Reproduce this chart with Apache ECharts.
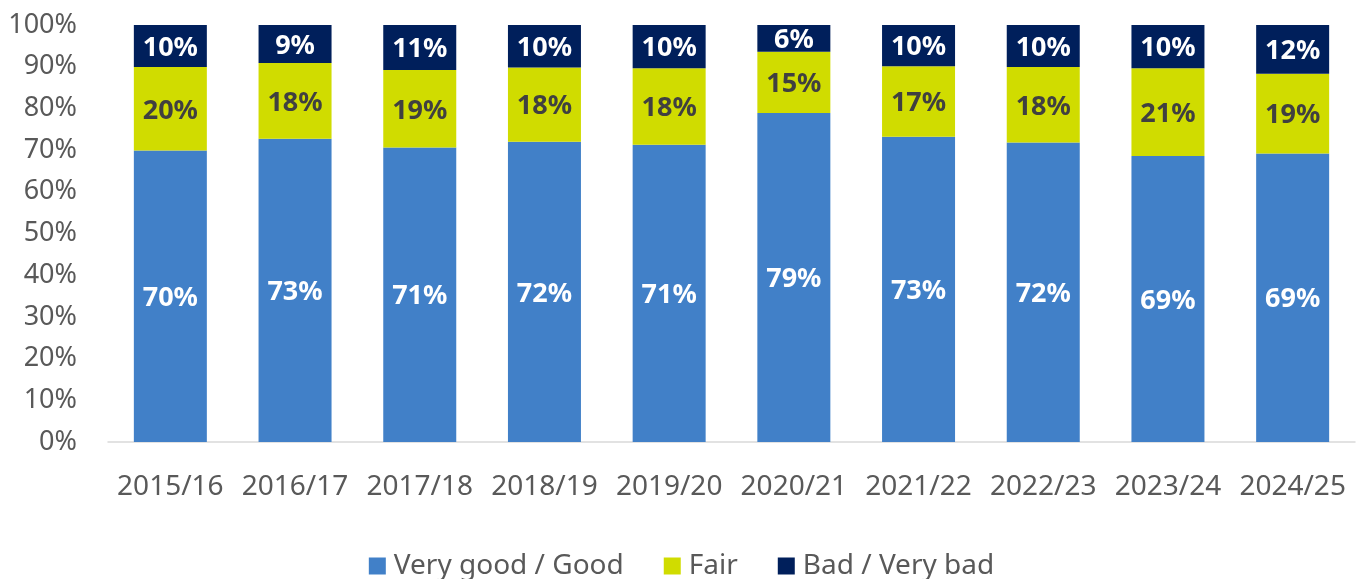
<!DOCTYPE html>
<html lang="en">
<head>
    <meta charset="UTF-8">
    <title>Rating by year</title>
    <script src="https://cdn.jsdelivr.net/npm/echarts/dist/echarts.min.js"></script>
    <style>
        html, body { margin: 0; padding: 0; background: #fff; }
        #chart { width: 1363px; height: 579px; }
    </style>
</head>
<body>
<div id="chart"></div>
<script>
    // data (shares in %)
    let years = ['2015/16', '2016/17', '2017/18', '2018/19', '2019/20', '2020/21', '2021/22', '2022/23', '2023/24', '2024/25'];
    let good = [69.9, 72.7, 70.6, 72.0, 71.3, 78.9, 73.2, 71.8, 68.6, 69.2];
    let fair = [20.0, 18.2, 18.6, 17.8, 18.3, 14.7, 16.9, 18.1, 21.0, 19.1];
    let bad = [10.1, 9.1, 10.8, 10.2, 10.4, 6.4, 9.9, 10.1, 10.4, 11.7];

    let font = '"Noto Sans", sans-serif';
    let grey = '#595959';

    function seg(name, data, color, labelColor) {
        return {
            name: name,
            type: 'bar',
            stack: 'all',
            data: data,
            barWidth: 73,
            itemStyle: { color: color },
            label: {
                show: true,
                position: 'inside',
                offset: [0, 2],
                formatter: p => Math.round(p.value) + '%',
                color: labelColor,
                fontFamily: font,
                fontSize: 27,
                fontWeight: 'bold'
            },
            emphasis: { disabled: true }
        };
    }

    var myChart = echarts.init(document.getElementById('chart'));
    myChart.setOption({
        animation: false,
        grid: { left: 108, right: 8, top: 25, bottom: 137 },
        legend: {
            bottom: -6,
            left: 'center',
            icon: 'rect',
            itemWidth: 17,
            itemHeight: 17,
            itemGap: 40,
            textStyle: { fontFamily: font, fontSize: 28, color: grey, padding: [0, 0, 0, 3] }
        },
        xAxis: {
            type: 'category',
            data: years,
            axisLine: { lineStyle: { color: '#D9D9D9', width: 1.5 } },
            axisTick: { show: false },
            axisLabel: { interval: 0, fontFamily: font, fontSize: 28, color: grey, margin: 31 }
        },
        yAxis: {
            type: 'value',
            min: 0,
            max: 100,
            interval: 10,
            splitLine: { show: false },
            axisLabel: { formatter: '{value}%', fontFamily: font, fontSize: 27, color: grey, margin: 31 }
        },
        series: [
            seg('Very good / Good', good, '#4180C8', '#FFFFFF'),
            seg('Fair', fair, '#D0DC00', '#404040'),
            seg('Bad / Very bad', bad, '#001F5B', '#FFFFFF')
        ]
    });
</script>
</body>
</html>
